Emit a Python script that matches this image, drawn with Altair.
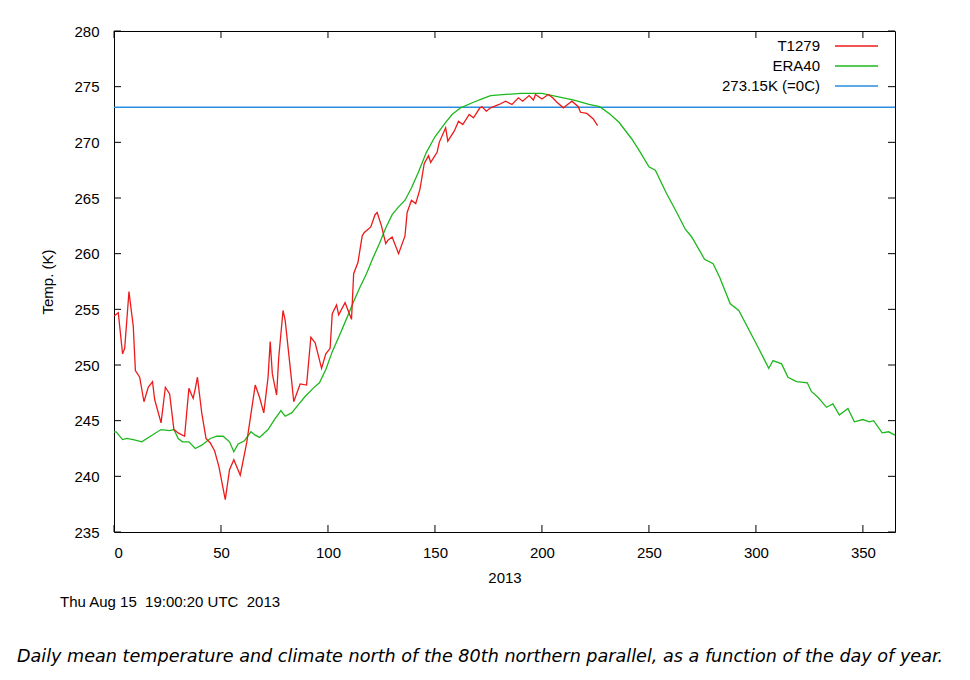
import altair as alt
import pandas as pd

# ---- data ----
red_days = [0, 2, 4, 5, 7, 8, 9, 10, 12, 14, 16, 18, 19, 22, 24, 26, 28, 30, 33, 35, 37, 38, 39, 41, 43, 45,
            47, 49, 52, 54, 56, 59, 62, 66, 68, 70, 72, 73, 74, 76, 77, 79, 80, 83, 84, 87, 90, 92, 94, 97,
            99, 101, 102, 104, 105, 108, 111, 112, 114, 116, 117, 120, 122, 123, 125, 127, 128, 130, 133,
            136, 137, 139, 141, 143, 145, 147, 148, 151, 152, 155, 156, 159, 161, 163, 166, 168, 171, 172,
            174, 176, 180, 183, 186, 189, 191, 194, 196, 197, 200, 203, 205, 207, 210, 212, 214, 217, 218,
            221, 224, 226]
red_temps = [254.4, 254.7, 251.0, 251.5, 256.6, 255.0, 253.5, 249.5, 248.9, 246.7, 248.0, 248.5, 246.9,
             244.8, 248.0, 247.4, 244.2, 243.9, 243.6, 247.9, 247.0, 247.9, 248.9, 245.7, 243.4, 243.0,
             242.3, 240.9, 237.9, 240.6, 241.5, 240.1, 243.0, 248.2, 247.1, 245.7, 248.9, 252.1, 249.2,
             247.3, 250.7, 254.9, 254.0, 248.6, 246.7, 248.3, 248.2, 252.5, 252.0, 249.7, 251.0, 251.5,
             254.6, 255.4, 254.5, 255.6, 254.1, 258.2, 259.2, 261.6, 261.9, 262.4, 263.5, 263.7, 262.5,
             260.9, 261.2, 261.5, 260.0, 261.6, 263.7, 264.8, 264.5, 265.8, 268.1, 268.8, 268.2, 269.1,
             270.0, 271.3, 270.1, 271.0, 271.9, 271.6, 272.5, 272.2, 273.1, 273.2, 272.8, 273.1, 273.4,
             273.7, 273.4, 274.0, 273.7, 274.2, 273.8, 274.3, 273.9, 274.3, 274.0, 273.6, 273.1, 273.4,
             273.7, 273.2, 272.7, 272.6, 272.1, 271.5]

era_days = [0, 1, 4, 6, 9, 13, 17, 22, 26, 28, 30, 32, 35, 38, 41, 45, 48, 51, 54, 56, 58, 61, 64, 66, 68,
            72, 75, 78, 80, 83, 86, 89, 93, 96, 99, 102, 105, 109, 112, 115, 118, 121, 124, 127, 130, 133,
            136, 139, 142, 146, 150, 155, 158, 162, 168, 172, 176, 183, 190, 196, 200, 205, 210, 215, 222,
            227, 232, 236, 242, 246, 250, 253, 258, 263, 267, 270, 276, 280, 283, 288, 292, 298, 301, 306,
            308, 312, 315, 319, 324, 326, 329, 333, 336, 339, 343, 346, 350, 353, 355, 359, 362, 365]
era_temps = [244.0, 244.0, 243.3, 243.4, 243.3, 243.1, 243.6, 244.2, 244.1, 244.2, 243.4, 243.1, 243.1,
             242.5, 242.8, 243.4, 243.6, 243.6, 243.1, 242.2, 242.9, 243.2, 244.0, 243.7, 243.5, 244.2,
             245.1, 245.9, 245.4, 245.7, 246.4, 247.1, 247.9, 248.4, 249.6, 251.2, 252.5, 254.3, 255.7,
             257.0, 258.2, 259.6, 260.9, 262.3, 263.5, 264.2, 264.8, 265.9, 267.2, 269.1, 270.5, 271.8,
             272.5, 273.1, 273.6, 273.9, 274.2, 274.3, 274.4, 274.4, 274.4, 274.2, 274.0, 273.8, 273.4,
             273.2, 272.5, 271.8, 270.3, 269.1, 267.8, 267.5, 265.5, 263.7, 262.2, 261.5, 259.5, 259.1,
             257.9, 255.5, 254.9, 252.7, 251.6, 249.7, 250.4, 250.1, 248.9, 248.5, 248.4, 247.6, 247.1,
             246.2, 246.5, 245.5, 246.1, 244.9, 245.1, 244.9, 245.0, 243.9, 244.0, 243.7]

freeze_k = [273.15]
x_ticks = [0, 50, 100, 150, 200, 250, 300, 350]
y_ticks = [235, 240, 245, 250, 255, 260, 265, 270, 275, 280]
legend_labels = ["T1279", "ERA40", "273.15K (=0C)"]
series_colors = ["#ee1a1a", "#1db81d", "#2a8de0"]
x_title = "2013"
y_title = "Temp. (K)"
stamp_text = "Thu Aug 15\u00a0 19:00:20 UTC\u00a0 2013"
caption_text = ("Daily mean temperature and climate north of the 80th northern parallel, "
                "as a function of the day of year.")

# ---- layout ----
W, H = 781, 501
FONT = "Liberation Sans"
TICK = 7

red_df = pd.DataFrame({"day": red_days, "temp": red_temps})
era_df = pd.DataFrame({"day": era_days, "temp": era_temps})
xt_df = pd.DataFrame({"day": x_ticks})
yt_df = pd.DataFrame({"temp": y_ticks})
fz_df = pd.DataFrame({"temp": freeze_k})

x_scale = alt.Scale(domain=[0, 365], nice=False, zero=False)
y_scale = alt.Scale(domain=[235, 280], nice=False, zero=False)

x_axis = alt.Axis(values=x_ticks, format="d", grid=False, domain=False, ticks=False, tickSize=0,
                  labelPadding=13, labelFont=FONT, labelFontSize=15, labelColor="black",
                  titleFont=FONT, titleFontSize=15, titleFontWeight="normal", titleColor="black",
                  titlePadding=10)
y_axis = alt.Axis(values=y_ticks, format="d", grid=False, domain=False, ticks=False, tickSize=0,
                  labelPadding=15, labelFont=FONT, labelFontSize=15, labelColor="black",
                  titleFont=FONT, titleFontSize=15, titleFontWeight="normal", titleColor="black",
                  titlePadding=18)

red_line = alt.Chart(red_df).mark_line(color=series_colors[0], strokeWidth=1.3).encode(
    x=alt.X("day:Q", scale=x_scale, axis=x_axis, title=x_title),
    y=alt.Y("temp:Q", scale=y_scale, axis=y_axis, title=y_title),
)
era_line = alt.Chart(era_df).mark_line(color=series_colors[1], strokeWidth=1.3).encode(
    x=alt.X("day:Q"), y=alt.Y("temp:Q"),
)
freeze_rule = alt.Chart(fz_df).mark_rule(color=series_colors[2], strokeWidth=1.5).encode(
    y=alt.Y("temp:Q"),
)

# inward ticks on all four sides
xt_bottom = alt.Chart(xt_df).mark_rule(color="black", strokeWidth=1).encode(
    x="day:Q", y=alt.value(H), y2=alt.value(H - TICK))
xt_top = alt.Chart(xt_df).mark_rule(color="black", strokeWidth=1).encode(
    x="day:Q", y=alt.value(0), y2=alt.value(TICK))
yt_left = alt.Chart(yt_df).mark_rule(color="black", strokeWidth=1).encode(
    y="temp:Q", x=alt.value(0), x2=alt.value(TICK))
yt_right = alt.Chart(yt_df).mark_rule(color="black", strokeWidth=1).encode(
    y="temp:Q", x=alt.value(W - TICK), x2=alt.value(W))

# legend (gnuplot style: label then sample line)
legend_layers = []
for i, (lab, col) in enumerate(zip(legend_labels, series_colors)):
    ly = 15 + 20 * i
    ldf = pd.DataFrame({"label": [lab]})
    legend_layers.append(
        alt.Chart(ldf).mark_text(align="right", baseline="middle", font=FONT, fontSize=15,
                                 color="black").encode(text="label:N", x=alt.value(706), y=alt.value(ly)))
    legend_layers.append(
        alt.Chart(ldf).mark_rule(color=col, strokeWidth=1.5).encode(
            x=alt.value(721), x2=alt.value(764), y=alt.value(ly)))

stamp = alt.Chart(pd.DataFrame({"t": [stamp_text]})).mark_text(
    align="left", baseline="middle", font=FONT, fontSize=15, color="black").encode(
    text="t:N", x=alt.value(-54), y=alt.value(571))
caption = alt.Chart(pd.DataFrame({"t": [caption_text]})).mark_text(
    align="left", baseline="middle", font="DejaVu Sans", fontStyle="italic", fontSize=17.6,
    color="black").encode(text="t:N", x=alt.value(-97), y=alt.value(626))
page_edge = alt.Chart(pd.DataFrame({"t": [0]})).mark_rule(color="#dbe5ee", strokeWidth=1).encode(
    x=alt.value(-110), y=alt.value(-31), y2=alt.value(650))

chart = alt.layer(
    page_edge, freeze_rule, era_line, red_line, xt_bottom, xt_top, yt_left, yt_right,
    *legend_layers, stamp, caption,
).properties(
    width=W, height=H,
    autosize=alt.AutoSizeParams(type="none"),
    padding={"left": 106, "top": 23, "right": 67, "bottom": 140},
    background="white",
).configure_view(stroke="black", strokeWidth=1)

chart.save("out.html", embed_options={"renderer": "svg", "actions": False})
